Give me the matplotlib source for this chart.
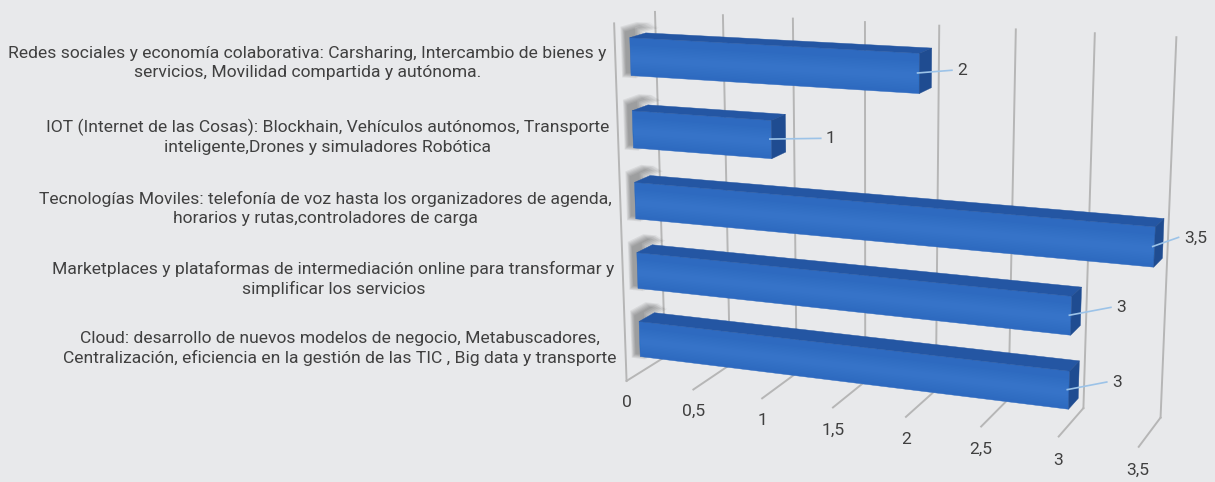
import numpy as np
import matplotlib
matplotlib.use("Agg")
import matplotlib.pyplot as plt
from mpl_toolkits.mplot3d.art3d import Poly3DCollection

# ---- data -------------------------------------------------------------
categories = [
    "Cloud: desarrollo de nuevos modelos de negocio, Metabuscadores,\n"
    "Centralización, eficiencia en la gestión de las TIC , Big data y transporte",
    "Marketplaces y plataformas de intermediación online para transformar y\n"
    "simplificar los servicios",
    "Tecnologías Moviles: telefonía de voz hasta los organizadores de agenda,\n"
    "horarios y rutas,controladores de carga",
    "IOT (Internet de las Cosas): Blockhain, Vehículos autónomos, Transporte\n"
    "inteligente,Drones y simuladores Robótica",
    "Redes sociales y economía colaborativa: Carsharing, Intercambio de bienes y\n"
    "servicios, Movilidad compartida y autónoma.",
]
values = [3, 3, 3.5, 1, 2]
value_labels = ["3", "3", "3,5", "1", "2"]
ticks = [0, 0.5, 1, 1.5, 2, 2.5, 3, 3.5]
tick_labels = ["0", "0,5", "1", "1,5", "2", "2,5", "3", "3,5"]

# ---- layout / camera ----------------------------------------------------
W, H = 1215, 482
BG = "#e8e9eb"
TEXT = "#404040"
GRID = "#b6b6b6"
FONT = "Roboto"
FS = 12.6

ELEV, AZIM, ROLL = 15.6223, -66.6335, 0.627759
FOCAL = 0.564356
BOX_ASPECT = (1.0, 0.16437, 0.688618)
X_SPAN, Y_SPAN, Z_SPAN = 3.5, 1.0, 1.0
X_LO, Y_LO, Z_LO = -0.518417, -0.522322, -0.183676
AX_LEFT, AX_BOTTOM, AX_SIDE = 458.116, -142.62, 651.505   # pixels

BAR_FRONT, BAR_BACK = 0.347238, 0.741417   # depth range of the bars
BAR_HALF = 0.0516925                        # half bar thickness
WALL_TOP = 1.0
# leader line reach (value units, height units) for each bar, bottom to top
LEADER_DX = [0.24, 0.25, 0.145, 0.345, 0.214]
LEADER_DZ = [0.033, 0.032, 0.029, 0.012, 0.012]

fig = plt.figure(figsize=(W / 100, H / 100), dpi=100, facecolor=BG)
ax = fig.add_axes([AX_LEFT / W, AX_BOTTOM / H, AX_SIDE / W, AX_SIDE / H],
                  projection="3d")
ax.set_axis_off()
ax.patch.set_alpha(0)
ax.computed_zorder = False
ax.view_init(elev=ELEV, azim=AZIM, roll=ROLL)
ax.set_proj_type("persp", focal_length=FOCAL)
ax.set_box_aspect(BOX_ASPECT)
ax.set_xlim(X_LO, X_LO + X_SPAN)
ax.set_ylim(Y_LO, Y_LO + Y_SPAN)
ax.set_zlim(Z_LO, Z_LO + Z_SPAN)
M = ax.get_proj()


def label(x, y, z, s, **kw):
    """Place flat text at the projected position of a 3D data point."""
    p = M @ np.array([x, y, z, 1.0])
    ax.text2D(p[0] / p[3], p[1] / p[3], s, transform=ax.transData,
              fontsize=FS, color=TEXT, family=FONT, clip_on=False, **kw)


n = len(categories)
slot = WALL_TOP / n
centers = [(k + 0.5) * slot for k in range(n)]

# ---- walls and floor grid -------------------------------------------------
for t in ticks:
    ax.plot([t, t], [1, 1], [0, WALL_TOP], color=GRID, lw=1.4,
            zorder=1, clip_on=False)
    ax.plot([t, t], [0, 1], [0, 0], color=GRID, lw=1.4,
            zorder=1, clip_on=False)
ax.plot([0, 0], [0, 0], [0, WALL_TOP], color=GRID, lw=1.4,
        zorder=1, clip_on=False)

for t, lab in zip(ticks, tick_labels):
    label(t, 0, -0.064, lab, ha="center", va="center")


def add_poly(verts, color, z, alpha=1.0, lw=0.0):
    pc = Poly3DCollection([verts], facecolors=[color], edgecolors=[color],
                          linewidths=lw, alpha=alpha, zorder=z)
    pc.set_clip_on(False)
    ax.add_collection3d(pc)


FRONT = "#2e6ac0"
HILITE = "#4a90e2"
TOP_FACE = "#2456a3"
CAP_FACE = "#1f4c91"
SHADOW = "#3c3c3c"
LEADER = "#9cc3e8"

for k, (v, zc, lab) in enumerate(zip(values, centers, value_labels)):
    z0, z1 = zc - BAR_HALF, zc + BAR_HALF
    y0, y1 = BAR_FRONT, BAR_BACK
    hgt = z1 - z0

    # soft shadow thrown up and to the left of the bar's near end
    for e in range(6):
        gx, gz = 0.006 * e, 0.0025 * e
        xa, xb = -0.036 - gx, 0.10 - 0.012 * e
        za, zb = z0 + 0.006 - gz, z1 + 0.016 + gz
        add_poly([(xa, y0, za), (xb, y0, za), (xb, y0, zb),
                  (xb, y1, zb), (xa, y1, zb), (xa, y0, zb)],
                 SHADOW, 2, alpha=0.085)

    # front face with a soft highlight band
    add_poly([(0, y0, z0), (v, y0, z0), (v, y0, z1), (0, y0, z1)],
             FRONT, 3, lw=0.3)
    for i in range(8):
        lo = z0 + hgt * (0.08 + 0.04 * i)
        hi = z0 + hgt * (0.80 - 0.04 * i)
        add_poly([(0.004, y0, lo), (v - 0.004, y0, lo),
                  (v - 0.004, y0, hi), (0.004, y0, hi)],
                 HILITE, 3, alpha=0.055)
    # top face and end cap
    add_poly([(0, y0, z1), (v, y0, z1), (v, y1, z1), (0, y1, z1)],
             TOP_FACE, 3, lw=0.3)
    add_poly([(v, y0, z0), (v, y1, z0), (v, y1, z1), (v, y0, z1)],
             CAP_FACE, 3, lw=0.3)

    # value label with leader line
    dx, dz = LEADER_DX[k], LEADER_DZ[k]
    ax.plot([v - 0.008, v + dx], [y0, y0], [zc, zc + dz], color=LEADER,
            lw=1.2, zorder=5, clip_on=False)
    label(v + dx + 0.035, y0, zc + dz, lab, ha="left", va="center")

# category labels to the left of the wall
for zc, name in zip(centers, categories):
    label(-0.065, 0, zc - 0.008, name, ha="right", va="center",
          multialignment="center", linespacing=1.3)

fig.savefig("out.png", dpi=100, facecolor=BG)
